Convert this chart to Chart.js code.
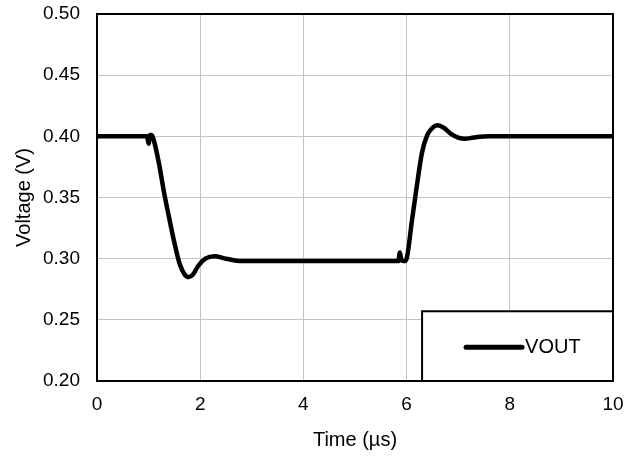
<!DOCTYPE html>
<html>
<head>
<meta charset="utf-8">
<script src="https://cdn.jsdelivr.net/npm/chart.js@4"></script>
<style>
  html, body { margin: 0; padding: 0; background: #fff; }
  #wrap { width: 640px; height: 458px; }
</style>
</head>
<body>
<div id="wrap"><canvas id="chart" width="640" height="458"></canvas></div>
<script>
// waveform
const timeUs = [0, 0.5, 0.97, 1.0, 1.03, 1.06, 1.1, 1.2, 1.3, 1.4, 1.5, 1.6, 1.7, 1.78, 1.86, 1.96, 2.1, 2.28, 2.5, 2.8, 3.2, 4, 5, 5.84, 5.87, 5.9, 5.95, 6.0, 6.1, 6.2, 6.3, 6.4, 6.5, 6.6, 6.72, 6.86, 7.0, 7.13, 7.3, 7.6, 8, 9, 10];
const vout = [0.400, 0.400, 0.400, 0.394, 0.401, 0.401, 0.397, 0.378, 0.354, 0.333, 0.313, 0.296, 0.287, 0.285, 0.287, 0.294, 0.300, 0.302, 0.300, 0.298, 0.298, 0.298, 0.298, 0.298, 0.305, 0.299, 0.298, 0.300, 0.330, 0.360, 0.387, 0.401, 0.407, 0.409, 0.407, 0.402, 0.399, 0.398, 0.399, 0.400, 0.400, 0.400, 0.400];
const xTicks = [0, 2, 4, 6, 8, 10];
const yTicks = [0.20, 0.25, 0.30, 0.35, 0.40, 0.45, 0.50];
const seriesName = "VOUT";

const font = "'Liberation Sans', Arial, sans-serif";

const frame = {
  id: "frame",
  afterDatasetsDraw(chart) {
    const {ctx, chartArea: a, scales: {x, y}} = chart;
    ctx.save();
    // legend box in the lower right corner
    const lx = x.getPixelForValue(6.3);
    const ly = y.getPixelForValue(0.257);
    ctx.fillStyle = "#fff";
    ctx.fillRect(lx, ly, a.right - lx, a.bottom - ly);
    ctx.strokeStyle = "#000";
    ctx.lineWidth = 2;
    ctx.strokeRect(lx, ly, a.right - lx, a.bottom - ly);
    const my = (ly + a.bottom) / 2 + 1;
    ctx.lineWidth = 5;
    ctx.lineCap = "round";
    ctx.beginPath();
    ctx.moveTo(lx + 44, my);
    ctx.lineTo(lx + 100, my);
    ctx.stroke();
    ctx.fillStyle = "#000";
    ctx.font = "20px " + font;
    ctx.textBaseline = "middle";
    ctx.fillText(seriesName, lx + 103, my);
    // plot border
    ctx.lineWidth = 2;
    ctx.strokeRect(a.left, a.top, a.right - a.left, a.bottom - a.top);
    ctx.restore();
  }
};

new Chart(document.getElementById("chart"), {
  type: "scatter",
  data: {
    datasets: [{
      label: seriesName,
      data: timeUs.map((t, i) => ({x: t, y: vout[i]})),
      showLine: true,
      borderColor: "#000",
      borderWidth: 4.5,
      pointRadius: 0,
      cubicInterpolationMode: "monotone"
    }]
  },
  options: {
    responsive: false,
    animation: false,
    layout: {padding: {left: 0, top: 14, right: 27, bottom: 0}},
    plugins: {legend: {display: false}, tooltip: {enabled: false}},
    scales: {
      x: {
        type: "linear", min: 0, max: 10,
        afterBuildTicks: s => { s.ticks = xTicks.map(v => ({value: v})); },
        afterFit: s => { s.height = 77; s.paddingLeft = 0; s.paddingRight = 0; },
        grid: {color: "#c4c4c4", lineWidth: 1, drawTicks: false},
        border: {display: false},
        ticks: {color: "#000", padding: 12, font: {family: font, size: 19}, callback: v => String(v)},
        title: {display: true, text: "Time (µs)", color: "#000", font: {family: font, size: 20}, padding: {top: 0, bottom: 6}}
      },
      y: {
        type: "linear", min: 0.2, max: 0.5,
        afterBuildTicks: s => { s.ticks = yTicks.map(v => ({value: v})); },
        afterFit: s => { s.width = 97; s.paddingTop = 0; s.paddingBottom = 0; },
        grid: {color: "#c4c4c4", lineWidth: 1, drawTicks: false},
        border: {display: false},
        ticks: {color: "#000", padding: 17, font: {family: font, size: 19}, callback: v => v.toFixed(2)},
        title: {display: true, text: "Voltage (V)", color: "#000", font: {family: font, size: 20}, padding: {top: 12, bottom: 0}}
      }
    }
  },
  plugins: [frame]
});
</script>
</body>
</html>
